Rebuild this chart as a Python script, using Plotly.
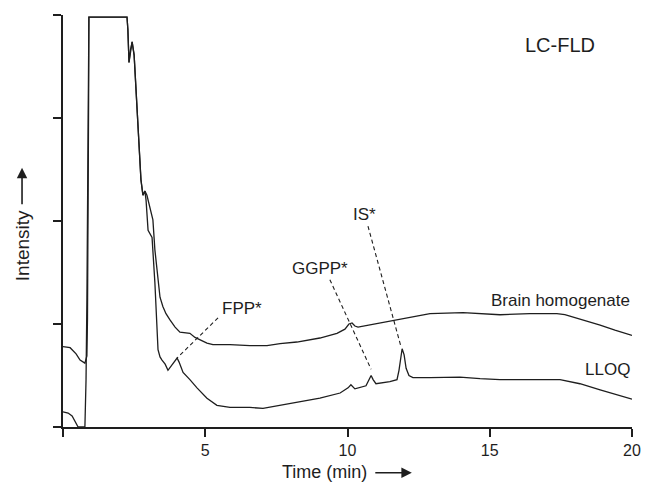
import plotly.graph_objects as go

# ---- data (time in min, intensity in arbitrary units; y tick spacing = 1) ----
brain_t = [0.00, 0.25, 0.46, 0.60, 0.77, 0.84, 0.86, 0.88, 0.90, 0.91, 2.25, 2.28, 2.32, 2.37, 2.43,
           2.50, 2.57, 2.64, 2.74, 2.81, 2.88, 2.95, 3.06, 3.16, 3.23, 3.34, 3.41, 3.51, 3.62, 3.76,
           3.94, 4.11, 4.32, 4.46, 4.64, 4.82, 5.06, 5.27, 5.87, 6.57, 7.17, 7.63, 8.22, 9.03, 9.63,
           9.91, 10.05, 10.16, 10.26, 10.37, 11.14, 11.60, 12.30, 12.90, 14.06, 15.36, 16.41, 17.36,
           17.64, 18.17, 18.88, 19.40, 20.00]
brain_i = [0.78, 0.77, 0.71, 0.65, 0.62, 0.69, 1.04, 1.72, 3.17, 3.98, 3.98, 3.86, 3.54, 3.66, 3.74,
           3.61, 3.27, 2.88, 2.40, 2.25, 2.29, 2.25, 2.11, 2.01, 1.72, 1.43, 1.26, 1.17, 1.10, 1.04,
           0.97, 0.92, 0.91, 0.91, 0.87, 0.845, 0.815, 0.80, 0.80, 0.79, 0.79, 0.81, 0.825, 0.864, 0.91,
           0.95, 1.00, 1.01, 0.98, 0.97, 1.01, 1.03, 1.07, 1.10, 1.11, 1.09, 1.10, 1.10,
           1.09, 1.05, 0.99, 0.94, 0.89]

lloq_t = [0.00, 0.18, 0.32, 0.42, 0.53, 0.77, 0.81, 0.84, 0.88, 0.91, 2.25, 2.28, 2.32, 2.37, 2.43,
          2.50, 2.57, 2.64, 2.74, 2.81, 2.88, 2.92, 2.99, 3.13, 3.23, 3.34, 3.41, 3.48, 3.59, 3.69,
          3.83, 3.94, 4.01, 4.08, 4.15, 4.22, 4.46, 4.71, 5.06, 5.41, 5.87, 6.57, 7.03, 7.63, 8.22,
          9.03, 9.74, 10.02, 10.12, 10.26, 10.65, 10.76, 10.83, 10.90, 11.00, 11.49, 11.74, 11.81,
          11.88, 11.92, 11.99, 12.06, 12.16, 12.30, 12.90, 13.95, 14.66, 15.36, 17.47, 18.17, 18.88, 20.00]
lloq_i = [0.146, 0.136, 0.107, 0.058, 0.0, 0.0, 0.46, 1.23, 2.69, 3.98, 3.98, 3.86, 3.54, 3.66, 3.74,
          3.61, 3.27, 2.88, 2.40, 2.25, 2.29, 2.20, 1.91, 1.84, 1.40, 0.75, 0.68, 0.65, 0.61, 0.55,
          0.60, 0.65, 0.67, 0.63, 0.57, 0.53, 0.46, 0.38, 0.28, 0.21, 0.19, 0.19, 0.18, 0.21, 0.24,
          0.28, 0.33, 0.38, 0.41, 0.37, 0.40, 0.46, 0.50, 0.46, 0.42, 0.44, 0.46, 0.55,
          0.72, 0.76, 0.70, 0.57, 0.50, 0.48, 0.48, 0.485, 0.47, 0.46, 0.46, 0.42, 0.36, 0.27]

x_tickvals = [0, 5, 10, 15, 20]
x_ticktext = ["", "5", "10", "15", "20"]
y_tickvals = [0, 1, 2, 3, 4]

# peak labels: text, label x, label y, leader start (x, y), leader end (x, y)
peak_labels = ["FPP*", "GGPP*", "IS*"]
peak_label_x = [6.29, 9.03, 10.58]
peak_label_y = [1.155, 1.54, 2.06]
leader_x0 = [5.45, 9.38, 10.72]
leader_y0 = [1.06, 1.43, 1.95]
leader_x1 = [4.01, 10.83, 11.88]
leader_y1 = [0.67, 0.56, 0.78]

FONT = "Liberation Sans, Arial, Helvetica, sans-serif"
INK = "#1e1e1e"

fig = go.Figure()
fig.add_trace(go.Scatter(x=brain_t, y=brain_i, mode="lines", name="Brain homogenate",
                         line=dict(color=INK, width=1.3), showlegend=False))
fig.add_trace(go.Scatter(x=lloq_t, y=lloq_i, mode="lines", name="LLOQ",
                         line=dict(color=INK, width=1.3), showlegend=False))

for i in range(len(peak_labels)):
    fig.add_shape(type="line", xref="x", yref="y",
                  x0=leader_x0[i], y0=leader_y0[i], x1=leader_x1[i], y1=leader_y1[i],
                  line=dict(color=INK, width=1.1, dash="4px,3px"))
    fig.add_annotation(x=peak_label_x[i], y=peak_label_y[i], xref="x", yref="y",
                       text=peak_labels[i], showarrow=False, xanchor="center", yanchor="middle",
                       font=dict(size=17, color=INK, family=FONT))

fig.add_annotation(x=17.47, y=3.71, xref="x", yref="y", text="LC-FLD", showarrow=False,
                   xanchor="center", yanchor="middle",
                   font=dict(size=20, color=INK, family=FONT))
fig.add_annotation(x=20, y=1.23, xref="x", yref="y", text="Brain homogenate", showarrow=False,
                   xanchor="right", yanchor="middle", font=dict(size=17, color=INK, family=FONT))
fig.add_annotation(x=20, y=0.56, xref="x", yref="y", text="LLOQ", showarrow=False,
                   xanchor="right", yanchor="middle", font=dict(size=17, color=INK, family=FONT))

# axis titles with arrows
fig.add_annotation(x=0.46, y=-0.109, xref="paper", yref="paper", text="Time (min)",
                   showarrow=False, xanchor="center", yanchor="middle",
                   font=dict(size=18, color=INK, family=FONT))
fig.add_annotation(x=0.613, y=-0.111, xref="paper", yref="paper", text="",
                   showarrow=True, ax=-38, ay=0, arrowhead=2, arrowsize=1.3, arrowwidth=1.6,
                   arrowcolor=INK, standoff=0)
fig.add_annotation(x=-0.072, y=0.439, xref="paper", yref="paper", text="Intensity",
                   textangle=-90, showarrow=False, xanchor="center", yanchor="middle",
                   font=dict(size=19, color=INK, family=FONT))
fig.add_annotation(x=-0.072, y=0.629, xref="paper", yref="paper", text="",
                   showarrow=True, ax=0, ay=38, arrowhead=2, arrowsize=1.3, arrowwidth=1.6,
                   arrowcolor=INK, standoff=0)

fig.update_xaxes(range=[0, 20], tickvals=x_tickvals, ticktext=x_ticktext, ticks="outside",
                 ticklen=8, tickwidth=1.5, tickcolor=INK, showline=True, linecolor=INK,
                 linewidth=2, showgrid=False, zeroline=False, automargin=False,
                 tickfont=dict(size=16, color=INK, family=FONT))
fig.update_yaxes(range=[0, 4], tickvals=y_tickvals, showticklabels=False, ticks="outside",
                 ticklen=8, tickwidth=1.5, tickcolor=INK, showline=True, linecolor=INK,
                 linewidth=2, showgrid=False, zeroline=False, automargin=False)

fig.update_layout(width=646, height=484, autosize=False,
                  margin=dict(l=63, r=14, t=15, b=57),
                  plot_bgcolor="white", paper_bgcolor="white",
                  font=dict(family=FONT, color=INK))

fig.write_html("out.html",
               config={"responsive": False, "displayModeBar": False},
               post_script="document.body.style.margin='0';document.body.style.overflow='hidden';")
